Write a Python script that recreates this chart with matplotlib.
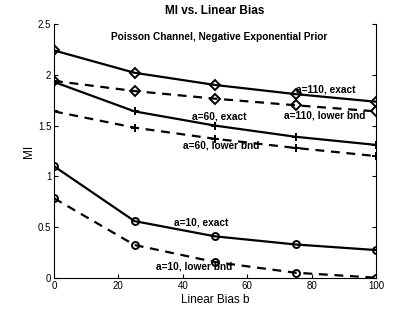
import matplotlib
matplotlib.use("Agg")
import matplotlib.pyplot as plt
from matplotlib.ticker import FuncFormatter

plt.rcParams['font.family'] = ['Liberation Sans', 'DejaVu Sans']

bias = [0, 25, 50, 75, 100]
a110_exact = [2.24, 2.02, 1.90, 1.81, 1.735]
a110_lower = [1.94, 1.84, 1.765, 1.70, 1.64]
a60_exact = [1.93, 1.64, 1.50, 1.39, 1.31]
a60_lower = [1.64, 1.48, 1.37, 1.28, 1.20]
a10_exact = [1.10, 0.56, 0.41, 0.33, 0.275]
a10_lower = [0.785, 0.325, 0.157, 0.052, 0.003]

fig = plt.figure(figsize=(4.15, 3.12), dpi=100)
ax = fig.add_axes([54/415, 1-278/312, 322/415, 254/312])

lw = 1.6
ms = 5
mew = 1.4
ax.plot(bias, a110_exact, '-', color='k', lw=lw, marker='D', ms=5, mfc='none', mew=mew)
ax.plot(bias, a110_lower, '--', color='k', lw=lw, marker='D', ms=5, mfc='none', mew=mew, dashes=(4, 3))
ax.plot(bias, a60_exact, '-', color='k', lw=lw, marker='+', ms=6, mew=mew)
ax.plot(bias, a60_lower, '--', color='k', lw=lw, marker='+', ms=6, mew=mew, dashes=(4, 3))
ax.plot(bias, a10_exact, '-', color='k', lw=lw, marker='o', ms=ms, mfc='none', mew=mew)
ax.plot(bias, a10_lower, '--', color='k', lw=lw, marker='o', ms=ms, mfc='none', mew=mew, dashes=(4, 3))

ax.set_xlim(0, 100)
ax.set_ylim(0, 2.5)
ax.set_xticks([0, 20, 40, 60, 80, 100])
ax.set_yticks([0, 0.5, 1, 1.5, 2, 2.5])
ax.yaxis.set_major_formatter(FuncFormatter(lambda v, p: f"{v:g}"))
ax.tick_params(direction='in', length=3, labelsize=7, right=True, top=False, pad=2)
ax.spines['top'].set_visible(False)
for s in ['left', 'right', 'bottom']:
    ax.spines[s].set_linewidth(0.8)

ax.set_title('MI vs. Linear Bias', fontsize=8.5, fontweight='bold', pad=7)
ax.set_xlabel('Linear Bias b', fontsize=8.5, labelpad=2)
ax.set_ylabel('MI', fontsize=8.5, labelpad=2)

tk = dict(fontsize=7.3, fontweight='bold', ha='center', va='center')
ax.text(51.2, 2.37, 'Poisson Channel, Negative Exponential Prior', **tk)
ax.text(84.5, 1.86, 'a=110, exact', **tk)
ax.text(84.2, 1.60, 'a=110, lower bnd', **tk)
ax.text(51.3, 1.585, 'a=60, exact', **tk)
ax.text(51.9, 1.30, 'a=60, lower bnd', **tk)
ax.text(45.8, 0.545, 'a=10, exact', **tk)
ax.text(43.5, 0.11, 'a=10, lower bnd', **tk)

fig.savefig('out.png', dpi=100)
